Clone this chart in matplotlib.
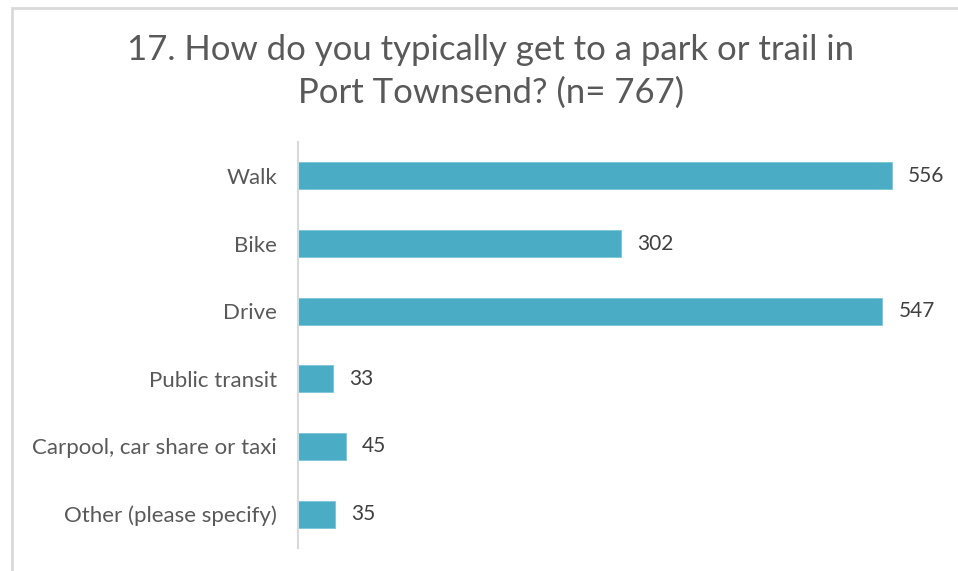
import matplotlib

matplotlib.use("Agg")
import matplotlib.pyplot as plt
from matplotlib.patches import Rectangle

categories = [
    "Walk",
    "Bike",
    "Drive",
    "Public transit",
    "Carpool, car share or taxi",
    "Other (please specify)",
]
counts = [556, 302, 547, 33, 45, 35]
title = "17. How do you typically get to a park or trail in\nPort Townsend? (n= 767)"

bar_color = "#4BACC6"
text_color = "#595959"

plt.rcParams["font.family"] = ["Lato", "DejaVu Sans"]

fig = plt.figure(figsize=(9.58, 5.71), dpi=100)
ax = fig.add_axes([298 / 958, 1 - 548 / 571, 641 / 958, 406 / 571])

y = list(range(len(categories)))
ax.barh(y, counts, height=0.4, color=bar_color, edgecolor="#7CC4D8", linewidth=0.6)
ax.set_ylim(len(categories) - 0.5, -0.5)
ax.set_xlim(0, 600)

for yi, v in zip(y, counts):
    ax.text(v + 15, yi, str(v), va="center", ha="left", fontsize=15,
            color="#404040")

ax.set_yticks(y)
ax.set_yticklabels(categories, fontsize=16, color=text_color)
ax.tick_params(axis="y", length=0, pad=15)
ax.set_xticks([])
for side in ["top", "right", "bottom"]:
    ax.spines[side].set_visible(False)
ax.spines["left"].set_color("#D9D9D9")
ax.spines["left"].set_linewidth(1.5)

fig.text(491 / 958, 1 - 71 / 571, title, ha="center", va="center",
         fontsize=25, color=text_color, linespacing=1.4)

# chart frame: only top and left edges fall inside the image
fig.add_artist(Rectangle((11.5 / 958, -0.1), 2.0, 1.1 - 7.5 / 571,
                         transform=fig.transFigure, fill=False,
                         edgecolor="#D9D9D9", linewidth=2))

fig.savefig("out.png", dpi=100)
